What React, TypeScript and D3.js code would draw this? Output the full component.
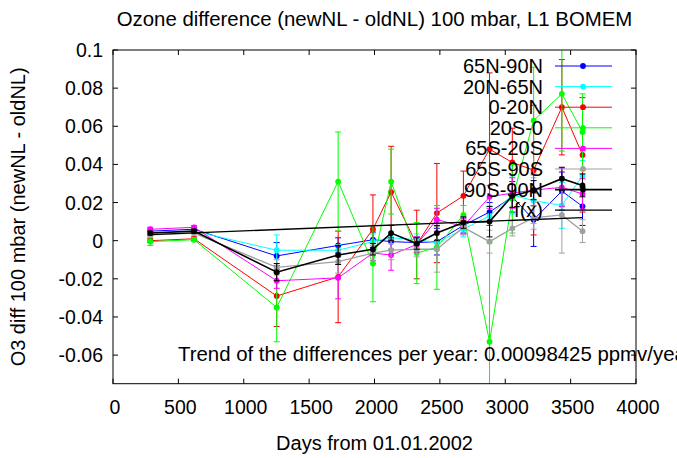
import React from 'react';
import * as d3 from 'd3';

const days = [285, 620, 1252, 1722, 1988, 2127, 2323, 2477, 2680, 2880, 3054, 3217, 3433, 3591];

const seriesNames = ['65N-90N', '20N-65N', '0-20N', '20S-0', '65S-20S', '65S-90S', '90S-90N'];
const seriesColors = ['#0000ff', '#00ffff', '#ff0000', '#00ff00', '#ff00ff', '#a0a0a0', '#000000'];

const v65N90N = [0.005, 0.006, -0.008, -0.0025, 0.0005, -0.0005, -0.001, -0.0005, 0.008, 0.015, 0.023, 0.011, 0.026, 0.018];
const e65N90N = [0.001, 0.001, 0.007, 0.004, 0.004, 0.004, 0.003, 0.007, 0.004, 0.005, 0.008, 0.014, 0.010, 0.010];

const v20N65N = [0.004, 0.005, -0.005, -0.005, -0.0005, 0.0015, 0.0005, -0.001, 0.006, 0.013, 0.024, 0.021, 0.0185, 0.034];
const e20N65N = [0.001, 0.001, 0.008, 0.003, 0.004, 0.003, 0.003, 0.004, 0.004, 0.005, 0.010, 0.012, 0.012, 0.008];

const v0N20N = [0.0, 0.001, -0.029, -0.019, 0.006, 0.0255, -0.002, 0.0145, 0.0235, 0.048, 0.041, 0.037, 0.070, 0.045];
const e0N20N = [0.001, 0.001, 0.016, 0.024, 0.018, 0.024, 0.018, 0.026, 0.013, 0.040, 0.018, 0.034, 0.025, 0.030];

const v20S0 = [-0.0005, 0.0005, -0.035, 0.031, -0.012, 0.031, -0.0065, -0.0035, 0.0135, -0.053, 0.022, 0.063, 0.077, 0.057];
const e20S0 = [0.002, 0.001, 0.018, 0.026, 0.020, 0.017, 0.016, 0.022, 0.005, 0.052, 0.018, 0.028, 0.030, 0.020];

const v65S20S = [0.006, 0.007, -0.021, -0.0195, -0.0065, -0.0075, -0.002, 0.011, 0.0075, 0.023, 0.025, 0.0265, 0.028, 0.0245];
const e65S20S = [0.001, 0.001, 0.004, 0.011, 0.004, 0.008, 0.004, 0.006, 0.004, 0.006, 0.008, 0.008, 0.010, 0.008];

const v65S90S = [0.003, 0.004, -0.014, -0.011, -0.0065, -0.005, -0.0045, -0.0045, 0.007, -0.0005, 0.0065, 0.012, 0.0135, 0.005];
const e65S90S = [0.001, 0.001, 0.004, 0.006, 0.004, 0.005, 0.004, 0.012, 0.004, 0.006, 0.004, 0.006, 0.020, 0.006];

const v90S90N = [0.004, 0.005, -0.0165, -0.0075, -0.0045, 0.004, -0.0015, 0.004, 0.0095, 0.010, 0.0235, 0.0265, 0.0325, 0.029];
const e90S90N = [0.001, 0.001, 0.0045, 0.005, 0.003, 0.004, 0.003, 0.004, 0.003, 0.008, 0.006, 0.005, 0.006, 0.006];

const seriesValues = [v65N90N, v20N65N, v0N20N, v20S0, v65S20S, v65S90S, v90S90N];
const seriesErrors = [e65N90N, e20N65N, e0N20N, e20S0, e65S20S, e65S90S, e90S90N];

const trendPerYear = 0.00098425;
const trendIntercept = 0.00244;

const xTicks = [0, 500, 1000, 1500, 2000, 2500, 3000, 3500, 4000];
const yTicks = [-0.06, -0.04, -0.02, 0, 0.02, 0.04, 0.06, 0.08, 0.1];

const FONT = '"Liberation Sans", Arial, Helvetica, sans-serif';
const FS = 19.5;

export default function App() {
  const W = 677, H = 458;
  const L = 113, R = 636, T = 50, B = 383.7;
  const x = d3.scaleLinear().domain([0, 4000]).range([L, R]);
  const y = d3.scaleLinear().domain([-0.075, 0.1]).range([B, T]);
  const line = d3.line<[number, number]>().x(d => x(d[0])).y(d => y(d[1]));
  const f = (d: number) => trendIntercept + (trendPerYear / 365.25) * d;
  const fDays = [days[0], days[days.length - 1]];
  const cap = 3;
  const legendY = (i: number) => 66 + i * 20.6;

  return (
    <svg width={W} height={H} style={{ position: 'absolute', left: 0, top: 0, background: '#fff' }} fontFamily={FONT}>
      <defs>
        <clipPath id="plotclip">
          <rect x={L} y={T} width={R - L} height={B - T} />
        </clipPath>
      </defs>
      <rect x={0} y={0} width={W} height={H} fill="#fff" />
      <text x={(L + R) / 2} y={26} textAnchor="middle" fontSize={20.4}>Ozone difference (newNL - oldNL) 100 mbar, L1 BOMEM</text>

      {yTicks.map(t => (
        <g key={'y' + t}>
          <line x1={L} x2={L + 5} y1={y(t)} y2={y(t)} stroke="#000" strokeWidth={1} />
          <line x1={R} x2={R - 5} y1={y(t)} y2={y(t)} stroke="#000" strokeWidth={1} />
          <text x={103} y={y(t) + 7} textAnchor="end" fontSize={FS}>{String(+t.toFixed(2))}</text>
        </g>
      ))}
      {xTicks.map(t => (
        <g key={'x' + t}>
          <line x1={x(t)} x2={x(t)} y1={B} y2={B - 5} stroke="#000" strokeWidth={1} />
          <line x1={x(t)} x2={x(t)} y1={T} y2={T + 5} stroke="#000" strokeWidth={1} />
          <text x={x(t) + 2} y={414} textAnchor="middle" fontSize={FS}>{t}</text>
        </g>
      ))}

      <g clipPath="url(#plotclip)">
        {seriesValues.map((vals, si) => {
          const col = seriesColors[si];
          const errs = seriesErrors[si];
          const sw = si === 6 ? 1.6 : si === 5 ? 1.3 : 1;
          const pts = days.map((d, i) => [d, vals[i]] as [number, number]);
          return (
            <g key={si}>
              <path d={line(pts) || ''} fill="none" stroke={col} strokeWidth={sw} />
              {days.map((d, i) => {
                const cx = x(d);
                const y1 = y(vals[i] - errs[i]);
                const y2 = y(vals[i] + errs[i]);
                return (
                  <g key={i}>
                    <line x1={cx} x2={cx} y1={y1} y2={y2} stroke={col} strokeWidth={1} />
                    <line x1={cx - cap} x2={cx + cap} y1={y1} y2={y1} stroke={col} strokeWidth={1} />
                    <line x1={cx - cap} x2={cx + cap} y1={y2} y2={y2} stroke={col} strokeWidth={1} />
                    <circle cx={cx} cy={y(vals[i])} r={2.9} fill={col} />
                  </g>
                );
              })}
            </g>
          );
        })}
        <path d={line(fDays.map(d => [d, f(d)] as [number, number])) || ''} fill="none" stroke="#000" strokeWidth={1.3} />
      </g>

      {seriesNames.map((n, i) => (
        <g key={n}>
          <text x={543} y={legendY(i) + 7} textAnchor="end" fontSize={20}>{n}</text>
          <line x1={555} x2={612} y1={legendY(i)} y2={legendY(i)} stroke={seriesColors[i]} strokeWidth={i === 6 ? 1.6 : 1} />
          <circle cx={583} cy={legendY(i)} r={2.9} fill={seriesColors[i]} />
        </g>
      ))}
      <text x={543} y={legendY(7) + 7} textAnchor="end" fontSize={20}>f(x)</text>
      <line x1={555} x2={612} y1={legendY(7)} y2={legendY(7)} stroke="#000" strokeWidth={1.3} />

      <rect x={L} y={T} width={R - L} height={B - T} fill="none" stroke="#000" strokeWidth={1} />

      <text x={178} y={361} fontSize={20.4}>Trend of the differences per year: 0.00098425 ppmv/year</text>
      <text x={(L + R) / 2} y={450} textAnchor="middle" fontSize={20}>Days from 01.01.2002</text>
      <text transform={`translate(25, ${(T + B) / 2}) rotate(-90)`} textAnchor="middle" fontSize={20}>O3 diff 100 mbar (newNL - oldNL)</text>
    </svg>
  );
}
